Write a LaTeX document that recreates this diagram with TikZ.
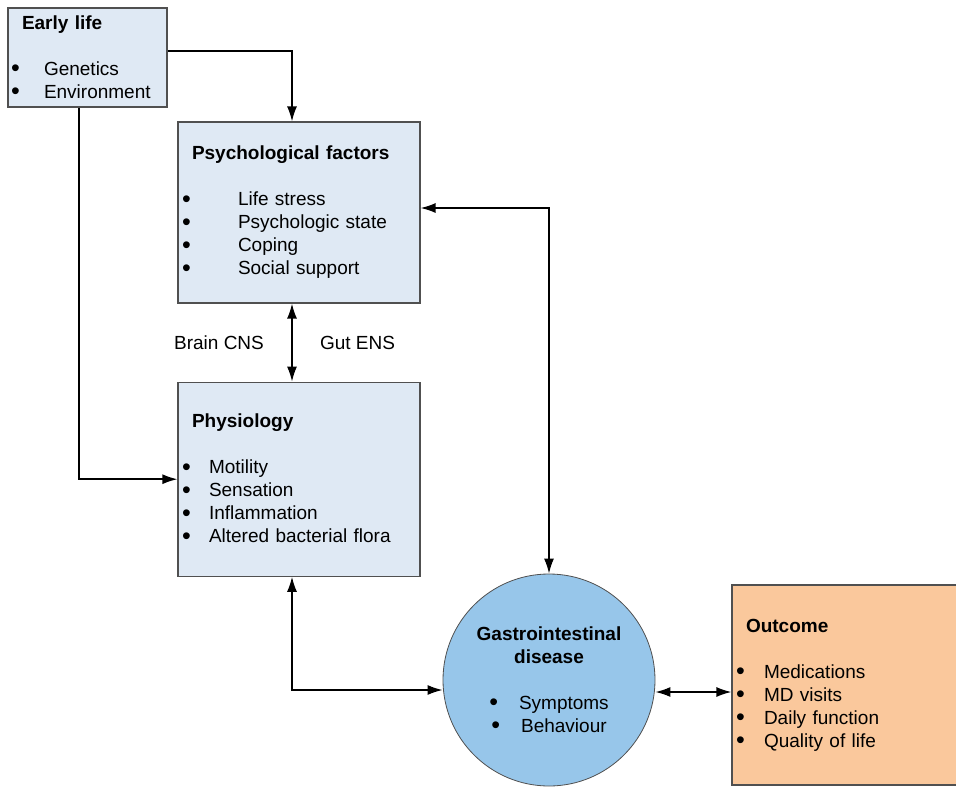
\documentclass[tikz,border=0pt]{standalone}
\usepackage{fontspec}
\setmainfont{Liberation Sans}
\usepackage{xcolor}
\usetikzlibrary{arrows.meta,positioning}
\definecolor{boxblue}{HTML}{DFE9F4}
\definecolor{giblue}{HTML}{97C6EA}
\definecolor{outorange}{HTML}{FAC89C}
\definecolor{rimgray}{HTML}{505050}
\newcommand{\bigdot}{\raisebox{-1.5pt}{\fontsize{25}{23}\selectfont\textbullet}}
\newcommand{\bul}[2]{\makebox[#1][l]{\bigdot}#2}

\begin{document}
\begin{tikzpicture}[
  x=1pt,y=-1pt,
  >={Latex[length=15pt,width=10pt]},
  blk/.style={draw=rimgray,line width=1.2pt,fill=boxblue,align=left,inner xsep=4pt,inner ysep=0pt,font=\fontsize{19}{23}\selectfont},
  gi/.style={circle,draw=rimgray,line width=0.8pt,fill=giblue,align=center,inner sep=0pt,minimum size=212pt,font=\fontsize{19}{23}\selectfont},
  lbl/.style={font=\fontsize{19}{23}\selectfont},
  arr/.style={->,line width=1.5pt},
  darr/.style={<->,line width=1.5pt}
]
\useasboundingbox (0,0) rectangle (956,787);
\node[blk,inner xsep=3pt,text width=153pt,minimum height=99pt] (early) at (87.5,57.5)
  {\hspace{11pt}\textbf{Early life}\\[23pt]\bul{33pt}{Genetics}\\\bul{33pt}{Environment}};
\node[blk,text width=234pt,minimum height=181pt] (psych) at (299,212.5)
  {\hspace{10pt}\textbf{Psychological factors}\\[23pt]\bul{56pt}{Life stress}\\\bul{56pt}{Psychologic state}\\\bul{56pt}{Coping}\\\bul{56pt}{Social support}};
\node[blk,text width=234pt,minimum height=194pt,below=78pt of psych] (physio)
  {\hspace{10pt}\textbf{Physiology}\\[23pt]\bul{27pt}{Motility}\\\bul{27pt}{Sensation}\\\bul{27pt}{Inflammation}\\\bul{27pt}{Altered bacterial flora}};
\node[gi] (gidis) at (549,680)
  {\textbf{Gastrointestinal}\\\textbf{disease}\\[23pt]\bigdot\hspace{21pt}Symptoms\\\bigdot\hspace{21pt}Behaviour};
\node[blk,fill=outorange,text width=218pt,minimum height=200pt] (outcome) at (845,685)
  {\hspace{10pt}\textbf{Outcome}\\[23pt]\bul{28pt}{Medications}\\\bul{28pt}{MD visits}\\\bul{28pt}{Daily function}\\\bul{28pt}{Quality of life}};
% connectors
\draw[arr] ([yshift=6.5pt]early.east) -| ([xshift=-7pt]psych.north);
\draw[arr] ([xshift=-8.5pt]early.south) |- (physio.west);
\draw[darr] ([xshift=-7pt]psych.south) -- ([xshift=-7pt]physio.north)
  node[lbl,midway,left=24pt] {Brain CNS}
  node[lbl,midway,right=24pt] {Gut ENS};
\draw[darr] ([yshift=4.5pt]psych.east) -| (gidis.north);
\draw[darr] ([xshift=-7pt]physio.south) |- ([yshift=-10pt]gidis.west);
\draw[darr] ([yshift=-12pt]gidis.east) -- ([yshift=-7pt]outcome.west);
\end{tikzpicture}
\end{document}
